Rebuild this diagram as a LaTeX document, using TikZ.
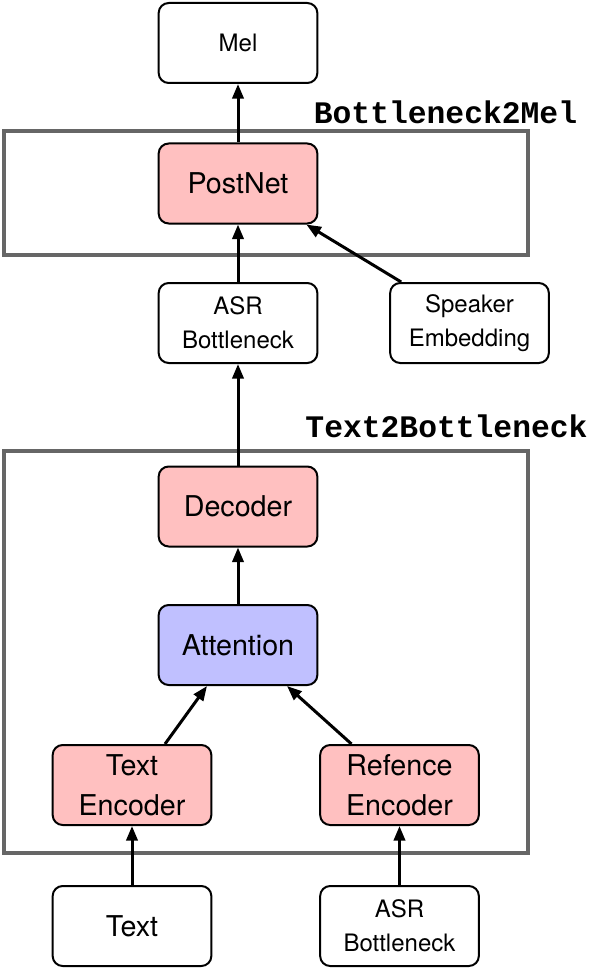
\documentclass[tikz,border=0pt]{standalone}
\definecolor{boxpink}{RGB}{255, 192, 192}
\definecolor{boxlilac}{RGB}{192, 192, 255}
\definecolor{framegray}{RGB}{102, 102, 102}
\usepackage{fontspec}
\setmainfont{TeX Gyre Heros}
\setmonofont{Liberation Mono}
\usepackage{tikz}
\usetikzlibrary{arrows.meta}

\begin{document}
\begin{tikzpicture}[x=0.75pt, y=-0.75pt,
    blockbox/.style={draw, line width=1.5pt, rounded corners=7.5pt, fill=white,
        minimum width=119pt, minimum height=60pt, align=center, inner sep=2pt},
    smalltext/.style={font=\fontsize{18}{25.5}\selectfont},
    bigtext/.style={font=\fontsize{21.5}{30}\selectfont},
    groupframe/.style={draw=framegray, line width=3pt},
    grouplabel/.style={font=\fontsize{23.5}{28}\selectfont\ttfamily\bfseries, anchor=base},
    flow/.style={line width=2.25pt, -{Triangle[length=11pt, width=8.5pt]}}]
    \useasboundingbox (0,0) rectangle (602,970);

    % group frames
    \draw[groupframe] (4,131) rectangle (528,254.5);
    \draw[groupframe] (4,451) rectangle (528,853);
    \node[grouplabel] (lblmel) at (445.5,124) {Bottleneck2Mel};
    \node[grouplabel] (lbltext) at (446.5,437) {Text2Bottleneck};

    % blocks
    \node[blockbox, smalltext] (mel) at (238,43) {Mel};
    \node[blockbox, bigtext, fill=boxpink] (post) at (238,183.5) {PostNet};
    \node[blockbox, smalltext] (asr) at (238,323) {ASR\\Bottleneck};
    \node[blockbox, smalltext] (spk) at (469.5,323) {Speaker\\Embedding};
    \node[blockbox, bigtext, fill=boxpink] (dec) at (238,506.5) {Decoder};
    \node[blockbox, bigtext, fill=boxlilac] (att) at (238,645) {Attention};
    \node[blockbox, bigtext, fill=boxpink] (tenc) at (132,785) {Text\\Encoder};
    \node[blockbox, bigtext, fill=boxpink] (renc) at (399.5,785) {Refence\\Encoder};
    \node[blockbox, bigtext] (txt) at (132,926) {Text};
    \node[blockbox, smalltext] (asrin) at (399.5,926) {ASR\\Bottleneck};

    % connections
    \draw[flow] (post) -- (mel);
    \draw[flow] (asr) -- (post);
    \draw[flow] ([xshift=9pt]spk.north west) -- ([xshift=-9pt]post.south east);
    \draw[flow] (dec) -- (asr);
    \draw[flow] (att) -- (dec);
    \draw[flow] ([xshift=24.75pt]tenc.north) -- ([xshift=-23.25pt]att.south);
    \draw[flow] ([xshift=-36pt]renc.north) -- ([xshift=36.75pt]att.south);
    \draw[flow] (txt) -- (tenc);
    \draw[flow] (asrin) -- (renc);
\end{tikzpicture}
\end{document}
